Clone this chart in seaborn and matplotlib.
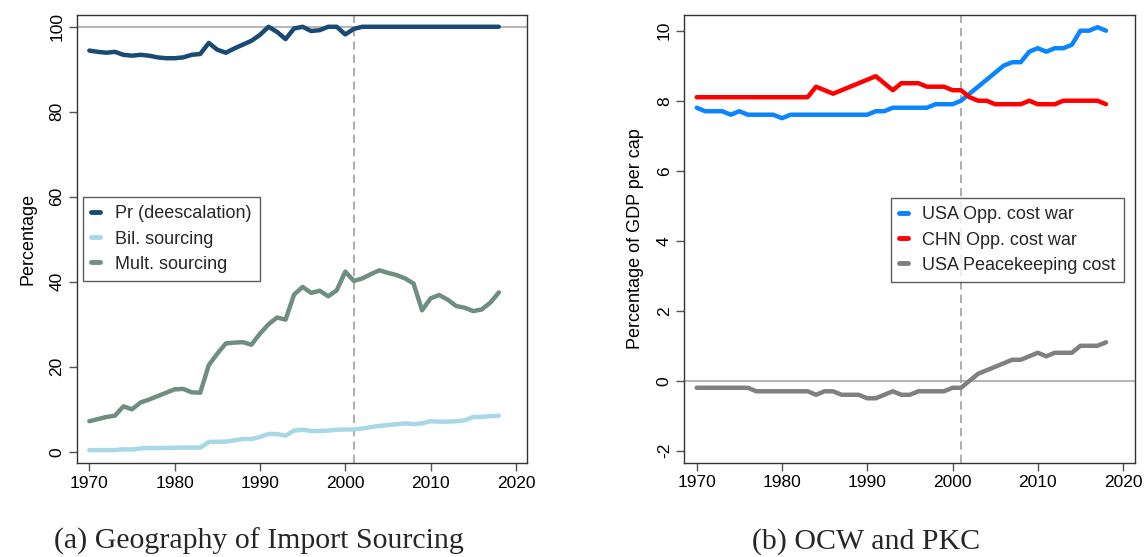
import numpy as np
import pandas as pd
import seaborn as sns
import matplotlib
matplotlib.use("Agg")
import matplotlib.pyplot as plt

years = list(range(1970, 2019))

pr_deesc = [94.4, 94.1, 93.9, 94.1, 93.4, 93.2, 93.4, 93.2, 92.8, 92.6,
            92.6, 92.8, 93.4, 93.6, 96.2, 94.6, 93.9, 94.9, 95.8, 96.7,
            98.1, 100.0, 98.8, 97.1, 99.6, 100.0, 99.0, 99.2, 100.0, 100.0,
            98.2, 99.5, 100.0, 100.0, 100.0, 100.0, 100.0, 100.0, 100.0, 100.0,
            100.0, 100.0, 100.0, 100.0, 100.0, 100.0, 100.0, 100.0, 100.0]

bil_sourcing = [0.4, 0.4, 0.4, 0.4, 0.6, 0.55, 0.8, 0.9, 0.9, 0.9,
                0.95, 1.0, 1.0, 1.0, 2.3, 2.35, 2.4, 2.7, 3.0, 3.0,
                3.5, 4.2, 4.2, 3.8, 5.0, 5.2, 4.9, 4.9, 5.0, 5.2,
                5.25, 5.25, 5.5, 5.8, 6.1, 6.3, 6.5, 6.7, 6.5, 6.7,
                7.2, 7.1, 7.1, 7.2, 7.4, 8.2, 8.2, 8.4, 8.5]

mult_sourcing = [7.2, 7.7, 8.2, 8.5, 10.7, 10.0, 11.6, 12.3, 13.1, 13.9,
                 14.7, 14.8, 14.0, 13.9, 20.4, 23.1, 25.5, 25.7, 25.8, 25.2,
                 27.8, 30.0, 31.6, 31.1, 37.0, 38.8, 37.4, 37.9, 36.6, 38.0,
                 42.4, 40.2, 40.8, 41.8, 42.7, 42.1, 41.6, 40.8, 39.6, 33.3,
                 36.1, 36.9, 35.8, 34.3, 33.9, 33.1, 33.5, 35.1, 37.5]

usa_ocw = [7.8, 7.7, 7.7, 7.7, 7.6, 7.7, 7.6, 7.6, 7.6, 7.6,
           7.5, 7.6, 7.6, 7.6, 7.6, 7.6, 7.6, 7.6, 7.6, 7.6,
           7.6, 7.7, 7.7, 7.8, 7.8, 7.8, 7.8, 7.8, 7.9, 7.9,
           7.9, 8.0, 8.2, 8.4, 8.6, 8.8, 9.0, 9.1, 9.1, 9.4,
           9.5, 9.4, 9.5, 9.5, 9.6, 10.0, 10.0, 10.1, 10.0]

chn_ocw = [8.1, 8.1, 8.1, 8.1, 8.1, 8.1, 8.1, 8.1, 8.1, 8.1,
           8.1, 8.1, 8.1, 8.1, 8.4, 8.3, 8.2, 8.3, 8.4, 8.5,
           8.6, 8.7, 8.5, 8.3, 8.5, 8.5, 8.5, 8.4, 8.4, 8.4,
           8.3, 8.3, 8.1, 8.0, 8.0, 7.9, 7.9, 7.9, 7.9, 8.0,
           7.9, 7.9, 7.9, 8.0, 8.0, 8.0, 8.0, 8.0, 7.9]

usa_pkc = [-0.2, -0.2, -0.2, -0.2, -0.2, -0.2, -0.2, -0.3, -0.3, -0.3,
           -0.3, -0.3, -0.3, -0.3, -0.4, -0.3, -0.3, -0.4, -0.4, -0.4,
           -0.5, -0.5, -0.4, -0.3, -0.4, -0.4, -0.3, -0.3, -0.3, -0.3,
           -0.2, -0.2, 0.0, 0.2, 0.3, 0.4, 0.5, 0.6, 0.6, 0.7,
           0.8, 0.7, 0.8, 0.8, 0.8, 1.0, 1.0, 1.0, 1.1]

left_labels = ["Pr (deescalation)", "Bil. sourcing", "Mult. sourcing"]
right_labels = ["USA Opp. cost war", "CHN Opp. cost war", "USA Peacekeeping cost"]
left_colors = ["#1a4a73", "#a8d8e6", "#6e8f80"]
right_colors = ["#0a84ff", "#ff0000", "#808080"]
x_ticks = [1970, 1980, 1990, 2000, 2010, 2020]
left_yticks = [0, 20, 40, 60, 80, 100]
right_yticks = [-2, 0, 2, 4, 6, 8, 10]
captions = ["(a) Geography of Import Sourcing", "(b) OCW and PKC"]

df_left = pd.DataFrame({
    "year": years * 3,
    "value": pr_deesc + bil_sourcing + mult_sourcing,
    "series": sum([[l] * len(years) for l in left_labels], []),
})
df_right = pd.DataFrame({
    "year": years * 3,
    "value": usa_ocw + chn_ocw + usa_pkc,
    "series": sum([[l] * len(years) for l in right_labels], []),
})

sns.set_theme(style="white")
plt.rcParams["font.family"] = ["Liberation Sans", "DejaVu Sans"]

W, H = 1144, 557
fig = plt.figure(figsize=(W / 100, H / 100), dpi=100)

def ax_rect(x0, y0, x1, y1):
    return [x0 / W, 1 - y1 / H, (x1 - x0) / W, (y1 - y0) / H]

ax1 = fig.add_axes(ax_rect(76.7, 15.3, 527, 463.3))
ax2 = fig.add_axes(ax_rect(684.3, 15.3, 1135, 462.7))

spine_col = "#333333"
tick_fs = 12.5

def style(ax, yticks, xlim, ylim, ylabel):
    ax.set_xlim(*xlim)
    ax.set_ylim(*ylim)
    ax.set_xticks(x_ticks)
    ax.set_yticks(yticks)
    ax.set_yticklabels([str(t) for t in yticks], rotation=90, va="center")
    ax.tick_params(axis="both", direction="out", length=6, width=1,
                   color="#555555", labelsize=tick_fs, labelcolor="black",
                   pad=3, left=True, bottom=True)
    for s in ax.spines.values():
        s.set_visible(True)
        s.set_color(spine_col)
        s.set_linewidth(1.0)
    ax.set_xlabel("")
    ax.set_ylabel(ylabel, fontsize=13, color="black", labelpad=9)
    ax.grid(False)
    ax.axvline(2001, color="#a0a0a0", lw=1.2, ls=(0, (5, 3)), zorder=1)

# Left panel
ax1.axhline(100, color="#a8a8a8", lw=1.2, zorder=1)
sns.lineplot(data=df_left, x="year", y="value", hue="series",
             palette=dict(zip(left_labels, left_colors)), hue_order=left_labels,
             linewidth=3.2, ax=ax1, zorder=3)
style(ax1, left_yticks, (1968.52, 2021.3), (-2.7, 102.7), "Percentage")

# Right panel
ax2.axhline(0, color="#a8a8a8", lw=1.2, zorder=1)
sns.lineplot(data=df_right, x="year", y="value", hue="series",
             palette=dict(zip(right_labels, right_colors)), hue_order=right_labels,
             linewidth=3.2, ax=ax2, zorder=3)
style(ax2, right_yticks, (1968.55, 2021.4), (-2.34, 10.44), "Percentage of GDP per cap")

def make_legend(ax, bbox):
    h, l = ax.get_legend_handles_labels()
    leg = ax.legend(h, l, loc="upper left", bbox_to_anchor=bbox,
                    bbox_transform=fig.transFigure, frameon=True,
                    fancybox=False, edgecolor="#333333", fontsize=13,
                    handlelength=0.5, handletextpad=0.8, labelspacing=0.45,
                    borderpad=0.45, borderaxespad=0)
    leg.get_frame().set_linewidth(1.0)
    for line in leg.get_lines():
        line.set_linewidth(3.5)
    return leg

make_legend(ax1, (83.3 / W, 1 - 197.3 / H))
make_legend(ax2, (890.7 / W, 1 - 198.3 / H))

cap_fam = ["Liberation Serif", "DejaVu Serif"]
fig.text(259 / W, 1 - 549 / H, captions[0], ha="center", va="baseline",
         fontsize=21.5, family=cap_fam)
fig.text(866 / W, 1 - 549 / H, captions[1], ha="center", va="baseline",
         fontsize=21.5, family=cap_fam)

fig.savefig("out.png", dpi=100)
